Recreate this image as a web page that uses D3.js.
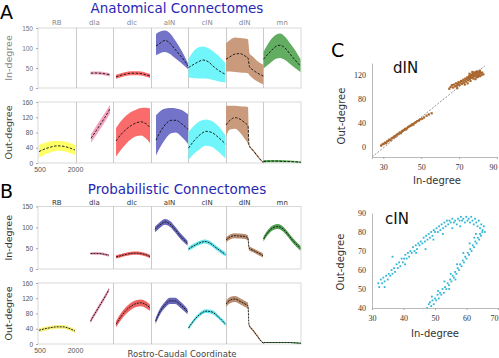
<!DOCTYPE html>
<html><head><meta charset="utf-8">
<script src="https://cdn.jsdelivr.net/npm/d3@7"></script>
<style>body{margin:0;background:#fff}svg{display:block}</style>
</head><body>
<svg id="c" width="499" height="358"></svg>
<script>
// ---------- DATA ----------
const segments = ["RB","dla","dlc","aIN","cIN","dIN","mn"];
const coordExtent = [437, 2024];      // rostro-caudal coordinate range of each sub-panel
const coordTicks = [500, 2000];
const inTicks = [0, 50, 100, 150];
const outTicks = [0, 40, 80, 120, 160];

// Anatomical connectomes: in-degree (mean, lower, upper)
const anatomicalIn = [
  {seg:"dla", u:[1077,1260,1470,1680,1890], mean:[37,37.5,37,35.5,33], lo:[33,33.5,33,31.5,29], hi:[41,41.5,41,39.5,37]},
  {seg:"dlc", u:[560,770,980,1190,1405,1615,1825,1995], mean:[28,32,35,37,37,36,33,30], lo:[23,27,30,32,32,31,28,25], hi:[33,37,40,42,42,41,38,35]},
  {seg:"aIN", u:[660,830,1040,1250,1460,1675,1845,2010], mean:[105,112,119,112,97,82,70,55], lo:[82,87,90,85,75,65,56,47], hi:[135,141,144,137,120,100,82,62]},
  {seg:"cIN", u:[445,636,847,1058,1270,1480,1692,2009], mean:[51,58,65,70,66,55,45,34], lo:[26,25,24,24,23,20,17,14], hi:[72,90,101,104,100,92,82,62]},
  {seg:"dIN", u:[443,612,823,1034,1246,1372,1436,1584,1753,2019], mean:[72,78,85,86,80,75,53,45,38,30], lo:[41,41,40,39,38,37,32,24,17,9], hi:[112,120,126,125,124,122,87,78,68,58]},
  {seg:"mn", u:[440,715,968,1137,1348,1560,1771,2003], mean:[72,90,104,107,100,85,70,55], lo:[49,62,73,75,70,60,50,40], hi:[90,118,133,136,128,112,95,72]}
];
// Anatomical connectomes: out-degree
const anatomicalOut = [
  {seg:"RB", u:[479,733,986,1240,1493,1747,2000], mean:[30,37,42,45,44,40,34], lo:[13,22,28,32,31,27,21], hi:[48,53,57,58,57,54,47]},
  {seg:"dla", u:[1090,1257,1468,1680,1890], mean:[65,80,100,120,142], lo:[54,68,88,108,130], hi:[76,92,112,132,153]},
  {seg:"dlc", u:[560,770,980,1190,1405,1615,1825,1995], mean:[58,75,88,98,105,108,103,93], lo:[17,35,50,62,70,72,64,52], hi:[92,110,124,134,140,144,145,143]},
  {seg:"aIN", u:[661,872,1083,1295,1506,1717,2013], mean:[60,85,103,112,112,104,88], lo:[20,45,65,78,80,70,50], hi:[125,138,143,144,143,140,128]},
  {seg:"cIN", u:[445,678,931,1185,1438,1692,2009], mean:[39,58,74,83,80,68,50], lo:[8,24,37,45,42,30,12], hi:[82,98,110,114,110,98,72]},
  {seg:"dIN", u:[443,612,823,1034,1246,1372,1415,1584,1753,1922,2023], mean:[100,112,119,115,105,98,47,33,20,7,1], lo:[70,88,90,80,62,50,44,30,17,5,0], hi:[150,150,150,149,148,147,50,36,23,9,3]},
  {seg:"mn", u:[440,900,1350,1800,2020], mean:[4,5,4,3,2], lo:[1,2,2,1,0], hi:[8,8,7,5,4]}
];
// Probabilistic connectomes: in-degree (mean, spread)
const probabilisticIn = [
  {seg:"dla", u:[1067,1257,1468,1680,1848], mean:[37,37.5,37,35,33], sd:[3,3,3,3,3]},
  {seg:"dlc", u:[560,770,980,1190,1405,1615,1825,1995], mean:[29,32,35,37.5,38,37,34,30], sd:[4,4,4,4,4,4,4,4]},
  {seg:"aIN", u:[619,830,1041,1252,1464,1675,1992], mean:[95,106,113,108,95,80,62], sd:[7,7,7,7,7,7,6]},
  {seg:"cIN", u:[445,678,931,1143,1354,1565,1777,2009], mean:[48,56,63,66,62,53,44,35], sd:[5,5,5,5,5,5,5,5]},
  {seg:"dIN", u:[443,612,823,1034,1246,1372,1415,1584,1753,1922,2006], mean:[70,77,80,79,78,74,50,45,40,35,32], sd:[6,6,6,6,6,6,5,5,5,5,5]},
  {seg:"mn", u:[440,630,841,1053,1264,1475,1686,2003], mean:[72,88,99,102,96,83,68,50], sd:[6,6,6,6,6,6,6,6]}
];
// Probabilistic connectomes: out-degree
const probabilisticOut = [
  {seg:"RB", u:[479,733,986,1240,1493,1747,2000], mean:[36,40,43,45,45,41,34], sd:[5,5,5,5,5,5,5]},
  {seg:"dla", u:[1067,1257,1468,1680,1848], mean:[60,80,102,124,143], sd:[6,6,6,6,6]},
  {seg:"dlc", u:[560,770,980,1190,1405,1615,1825,1995], mean:[52,72,88,99,106,108,103,95], sd:[8,9,9,9,9,9,9,8]},
  {seg:"aIN", u:[640,830,1041,1252,1464,1675,1992], mean:[60,85,103,113,113,104,85], sd:[7,8,8,8,8,8,7]},
  {seg:"cIN", u:[445,678,931,1185,1438,1692,2009], mean:[42,62,78,86,84,72,52], sd:[5,5,5,5,5,5,5]},
  {seg:"dIN", u:[443,612,823,1034,1246,1372,1415,1584,1753,1922,2023], mean:[105,115,118,112,105,100,50,36,22,8,2], sd:[8,8,8,8,8,8,3,3,3,2,1]},
  {seg:"mn", u:[440,900,1350,1800,2020], mean:[4,4,4,3,2], sd:[1.5,1.5,1.5,1.5,1.5]}
];

// Panel C scatter: dIN (in-degree, out-degree)
const dinPoints = [
  [28.8,2],[29.5,4],[30.2,5],[30.8,7],[31.5,6],[32.0,9],[32.6,10],[33.1,12],[33.8,11],[34.3,14],
  [34.9,15],[35.5,16],[36.0,18],[36.4,17],[37.0,20],[37.6,21],[38.1,22],[38.7,24],[39.2,23],[39.8,26],
  [40.3,27],[40.9,28],[41.4,30],[42.0,29],[42.5,31],[43.1,33],[43.6,34],[44.2,35],[44.8,36],[45.3,38],
  [45.9,37],[46.5,40],[47.2,41],[48.0,43],[48.8,44],[49.6,46],[50.5,47],[51.5,49],[52.8,52],[54.0,54],[55.5,56],
  [65.5,100],[66.2,103],[66.8,99],[67.3,104],[67.9,101],[68.4,106],[68.8,102],[69.3,105],[69.7,108],[70.1,103],
  [70.6,107],[71.0,110],[71.4,105],[71.8,109],[72.2,112],[72.5,107],[72.9,111],[73.3,114],[73.6,109],[74.0,113],
  [74.3,116],[74.7,111],[75.0,115],[75.3,118],[75.6,113],[75.9,117],[76.2,120],[76.5,115],[76.8,119],[77.1,122],
  [77.4,117],[77.7,121],[78.0,124],[78.2,118],[78.5,122],[78.8,125],[79.0,119],[79.3,123],[79.6,126],[79.9,120],
  [80.2,124],[80.5,121],[80.8,125],[81.1,118],[81.4,123],[81.8,120],[82.2,124],[82.8,121],[76.0,110],[77.5,114],
  [79.2,116],[80.0,117],[74.5,106],[73.0,104],[78.6,113],[81.0,127],[77.0,125],[75.5,122],[64.8,97],[69.0,98]
];
const dinFit = [[24, -17], [83.5, 135]];
// Panel C scatter: cIN
const cinPoints = [
  [32.0,53],[32.3,51],[32.8,55],[33.2,53],[33.6,56],[34.0,54],[34.5,57],[35.0,55],[35.3,58],[35.8,57],
  [36.2,60],[36.5,58],[37.0,61],[37.3,59],[37.8,63],[38.2,61],[38.6,64],[39.0,62],[39.4,66],[39.8,64],
  [40.2,66],[40.6,68],[41.0,66],[41.4,69],[41.8,67],[42.2,70],[42.6,69],[43.0,72],[43.5,70],[43.9,73],
  [44.3,71],[44.7,74],[45.1,73],[45.5,75],[46.0,74],[46.4,77],[46.8,75],[47.2,78],[47.6,76],[48.0,79],
  [48.4,77],[48.8,80],[49.2,78],[49.6,81],[50.0,80],[50.5,82],[50.9,80],[51.3,83],[51.7,81],[52.1,84],
  [52.6,82],[53.0,85],[53.4,83],[53.8,86],[54.2,84],[54.6,86],[55.0,85],[55.5,87],[56.0,85],[56.4,86],
  [56.9,84],[57.3,87],[57.8,86],[58.2,88],[58.6,86],[59.0,87],[59.5,85],[59.9,88],[60.3,86],[60.7,87],
  [61.1,85],[61.5,88],[61.9,86],[62.3,84],[62.7,87],[63.1,85],[63.5,83],[63.9,86],[64.3,82],[64.7,84],
  [65.1,81],[65.5,83],[65.8,80],[36.5,67],[47.0,71],[44.0,69],[40.5,63],[34.0,51],[49.5,76],[52.5,79],
  [55.5,82],[58.0,83],
  [48.0,42],[48.4,43],[48.8,41],[49.2,44],[49.6,42],[50.0,45],[50.4,44],[50.8,47],[51.2,45],[51.6,48],
  [52.0,47],[52.4,50],[52.8,48],[53.2,51],[53.6,50],[54.0,53],[54.4,52],[54.8,55],[55.2,54],[55.6,57],
  [56.0,56],[56.4,59],[56.8,58],[57.2,61],[57.6,60],[58.0,63],[58.4,62],[58.8,65],[59.2,64],[59.6,67],
  [60.0,66],[60.4,69],[60.8,68],[61.2,71],[61.6,70],[62.0,73],[62.4,72],[62.8,75],[63.2,74],[63.6,77],
  [64.0,76],[64.3,79],[64.6,78],[65.0,80],[63.0,79],[62.5,77],[61.0,74],[59.0,69],[57.0,63],[55.0,58],
  [53.0,54],[51.0,49],[49.0,46],[54.5,50],[56.5,55],[47.5,40]
];
const dinXTicks = [30, 50, 70, 90];
const dinYTicks = [0, 40, 80, 120];
const cinXTicks = [30, 40, 50, 60, 70];
const cinYTicks = [40, 50, 60, 70, 80, 90];

// ---------- STYLE ----------
const fillA = {RB:"#ffff66", dla:"#f4a3bc", dlc:"#fa6b6b", aIN:"#7373c9", cIN:"#70f6fa", dIN:"#c99b7c", mn:"#62ad62"};
const fillB = {RB:"#f6f27a", dla:"#eb98b2", dlc:"#ef6262", aIN:"#6666b8", cIN:"#60e6ec", dIN:"#bb8d70", mn:"#52a052"};
const FONT = "DejaVu Sans, Verdana, sans-serif";

const svg = d3.select("#c");
const xBand = d3.scaleBand().domain(segments).range([38, 301]);
const segX = seg => d3.scaleLinear().domain(coordExtent).range([xBand(seg), xBand(seg) + xBand.bandwidth()]);

function drawPanel(p) {
  const y = d3.scaleLinear().domain([0, p.max]).range([p.bottom, p.top]);
  const g = svg.append("g");
  g.append("rect").attr("x", 38).attr("y", p.top).attr("width", 263).attr("height", p.bottom - p.top)
    .attr("fill", "none").attr("stroke", "#cfcfcf").attr("stroke-width", 0.8);
  p.dividers.forEach(s => {
    const x = Math.round(xBand(s)) + 0.5;
    g.append("line").attr("x1", x).attr("x2", x).attr("y1", p.top).attr("y2", p.bottom)
      .attr("stroke", "#bdbdbd").attr("stroke-width", 0.8);
  });
  p.series.forEach(s => {
    const xs = segX(s.seg);
    const pts = s.u.map((u, i) => ({
      u, m: s.mean[i],
      lo: s.lo ? s.lo[i] : s.mean[i] - s.sd[i],
      hi: s.hi ? s.hi[i] : s.mean[i] + s.sd[i]
    }));
    g.append("path").datum(pts)
      .attr("d", d3.area().x(d => xs(d.u)).y0(d => y(Math.max(0, d.lo))).y1(d => y(d.hi)).curve(d3.curveMonotoneX))
      .attr("fill", p.fills[s.seg]);
    g.append("path").datum(pts)
      .attr("d", d3.line().x(d => xs(d.u)).y(d => y(d.m)).curve(d3.curveMonotoneX))
      .attr("fill", "none").attr("stroke", p.lineColor).attr("stroke-width", p.lineWidth)
      .attr("stroke-dasharray", p.dash);
  });
  const ax = g.append("g").attr("transform", "translate(38,0)")
    .call(d3.axisLeft(y).tickValues(p.ticks).tickSize(2).tickPadding(3));
  ax.select(".domain").remove();
  ax.selectAll(".tick line").attr("stroke", "#aaa");
  ax.selectAll(".tick text").attr("font-size", 6.5).attr("font-family", "Liberation Sans, Arial, sans-serif")
    .attr("fill", p.tickColor);
  if (p.labels) {
    segments.forEach(s => {
      g.append("text").attr("x", xBand(s) + xBand.bandwidth() / 2).attr("y", p.top - p.labelGap)
        .attr("text-anchor", "middle").attr("font-size", 7).attr("font-family", FONT)
        .attr("fill", p.labelColor).text(s);
    });
  }
  g.append("text").attr("transform", `translate(${p.titleX},${(p.top + p.bottom) / 2}) rotate(-90)`)
    .attr("text-anchor", "middle").attr("font-size", 9.5).attr("font-family", FONT)
    .attr("fill", p.titleColor).text(p.title);
  if (p.xAxis) {
    const xa = g.append("g").attr("transform", `translate(0,${p.bottom})`)
      .call(d3.axisBottom(segX("RB")).tickValues(coordTicks).tickFormat(d3.format("d")).tickSize(0).tickPadding(4));
    xa.select(".domain").remove();
    xa.selectAll(".tick text").attr("font-size", 7).attr("font-family", "Liberation Sans, Arial, sans-serif")
      .attr("fill", "#555");
  }
}

const allDiv = ["dla","dlc","aIN","cIN","dIN","mn"];
const bDiv = ["dlc","aIN","dIN"];
drawPanel({top:28, bottom:88, max:150, ticks:inTicks, series:anatomicalIn, fills:fillA, dividers:allDiv,
  lineColor:"#111", lineWidth:0.9, dash:"2.5,1.5", tickColor:"#777", labels:true, labelGap:3, labelColor:"#888",
  title:"In-degree", titleX:12, titleColor:"#888"});
drawPanel({top:102, bottom:163, max:160, ticks:outTicks, series:anatomicalOut, fills:fillA, dividers:allDiv,
  lineColor:"#111", lineWidth:0.9, dash:"2.5,1.5", tickColor:"#555", labels:false,
  title:"Out-degree", titleX:12, titleColor:"#444", xAxis:true});
drawPanel({top:206.5, bottom:269, max:150, ticks:inTicks, series:probabilisticIn, fills:fillB, dividers:bDiv,
  lineColor:"#111", lineWidth:0.9, dash:"2,1", tickColor:"#555", labels:true, labelGap:1.5, labelColor:"#333",
  title:"In-degree", titleX:12, titleColor:"#333"});
drawPanel({top:283, bottom:344, max:160, ticks:outTicks, series:probabilisticOut, fills:fillB, dividers:bDiv,
  lineColor:"#111", lineWidth:0.9, dash:"2,1", tickColor:"#555", labels:false,
  title:"Out-degree", titleX:12, titleColor:"#333", xAxis:true});

// Titles and panel letters
svg.append("text").attr("x", 177).attr("y", 13).attr("text-anchor", "middle").attr("font-size", 13.5)
  .attr("font-family", FONT).attr("fill", "#2828b4").text("Anatomical Connectomes");
svg.append("text").attr("x", 177).attr("y", 194).attr("text-anchor", "middle").attr("font-size", 13.5)
  .attr("font-family", FONT).attr("fill", "#2828b4").text("Probabilistic Connectomes");
svg.append("text").attr("x", 182).attr("y", 357).attr("text-anchor", "middle").attr("font-size", 8.5)
  .attr("font-family", FONT).attr("fill", "#444").text("Rostro-Caudal Coordinate");
[["A",0,19],["B",0,198],["C",331,57]].forEach(([t,x,y]) =>
  svg.append("text").attr("x", x).attr("y", y).attr("font-size", 19).attr("font-family", FONT)
    .attr("fill", "#000").text(t));

// ---------- Panel C scatters ----------
function drawScatter(c) {
  const x = d3.scaleLinear().domain(c.xd).range(c.xr);
  const y = d3.scaleLinear().domain(c.yd).range(c.yr);
  const g = svg.append("g");
  if (c.fit) {
    g.append("line").attr("x1", x(c.fit[0][0])).attr("y1", y(c.fit[0][1]))
      .attr("x2", x(c.fit[1][0])).attr("y2", y(c.fit[1][1]))
      .attr("stroke", "#666").attr("stroke-width", 0.7).attr("stroke-dasharray", "2,1.5");
  }
  g.selectAll("rect.pt").data(c.points).join("rect").attr("class", "pt")
    .attr("x", d => x(d[0]) - c.r).attr("y", d => y(d[1]) - c.r)
    .attr("width", 2 * c.r).attr("height", 2 * c.r).attr("fill", c.color);
  const xa = g.append("g").attr("transform", `translate(0,${c.yr[0]})`)
    .call(d3.axisBottom(x).tickValues(c.xt).tickSize(2).tickPadding(5));
  const ya = g.append("g").attr("transform", `translate(${c.xr[0]},0)`)
    .call(d3.axisLeft(y).tickValues(c.yt).tickSize(0).tickPadding(6));
  [xa, ya].forEach(a => {
    a.select(".domain").attr("stroke", "#aaa").attr("stroke-width", 0.8);
    a.selectAll(".tick line").attr("stroke", "#aaa");
    a.selectAll(".tick text").attr("font-size", 8).attr("font-family", "Liberation Serif, Times New Roman, serif")
      .attr("fill", "#333");
  });
  // keep the last x tick label inside the picture
  xa.selectAll(".tick text").filter((d, i, n) => i === n.length - 1).attr("dx", -4);
  g.append("text").attr("x", c.nameX).attr("y", c.nameY).attr("font-size", 15).attr("font-family", FONT)
    .attr("fill", "#111").text(c.name);
  g.append("text").attr("x", c.xLabelX).attr("y", c.xLabelY).attr("text-anchor", "middle")
    .attr("font-size", 10).attr("font-family", FONT).attr("fill", "#333").text("In-degree");
  g.append("text").attr("transform", `translate(${c.yLabelX},${c.yLabelY}) rotate(-90)`)
    .attr("text-anchor", "middle").attr("font-size", 10).attr("font-family", FONT)
    .attr("fill", "#333").text("Out-degree");
}
drawScatter({points:dinPoints, fit:dinFit, xd:[24,90], xr:[372,497], yd:[-17,140], yr:[157,63],
  xt:dinXTicks, yt:dinYTicks, color:"#a8652c", r:1.1, name:"dIN", nameX:393, nameY:73,
  xLabelX:437, xLabelY:184, yLabelX:345, yLabelY:116});
drawScatter({points:cinPoints, xd:[30,70], xr:[372,498], yd:[40,90], yr:[308,213],
  xt:cinXTicks, yt:cinYTicks, color:"#2fb6d6", r:0.9, name:"cIN", nameX:385, nameY:224,
  xLabelX:435, xLabelY:337, yLabelX:344, yLabelY:262});
</script>
</body></html>
